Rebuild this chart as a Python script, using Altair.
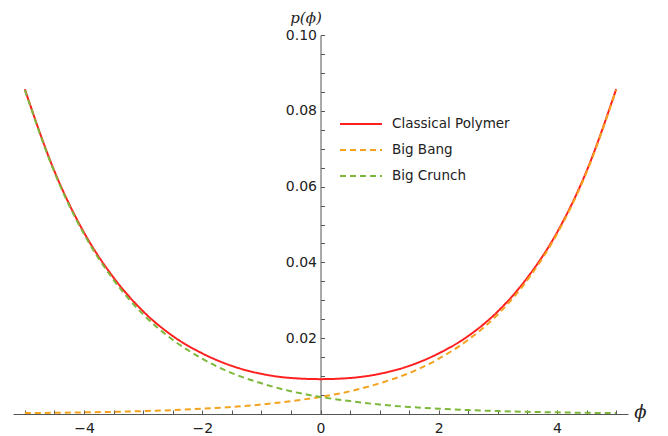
import altair as alt
import pandas as pd

# values
phi = [-5.0, -4.5, -4.0, -3.5, -3.0, -2.5, -2.0, -1.5, -1.0, -0.5, 0.0,
       0.5, 1.0, 1.5, 2.0, 2.5, 3.0, 3.5, 4.0, 4.5, 5.0]
classical_polymer = [0.0857, 0.0641, 0.0479, 0.0360, 0.0271, 0.0206, 0.0160, 0.0127, 0.0106, 0.0095, 0.0092,
                     0.0095, 0.0106, 0.0127, 0.0160, 0.0206, 0.0271, 0.0360, 0.0479, 0.0641, 0.0857]
big_bang = [0.00024, 0.00032, 0.00043, 0.00057, 0.00077, 0.00103, 0.00139, 0.00185, 0.0025, 0.0034, 0.0045,
            0.0060, 0.0081, 0.0108, 0.0146, 0.0196, 0.0263, 0.0354, 0.0475, 0.0638, 0.0855]
big_crunch = [0.0855, 0.0638, 0.0475, 0.0354, 0.0263, 0.0196, 0.0146, 0.0108, 0.0081, 0.0060, 0.0045,
              0.0034, 0.0025, 0.00185, 0.00139, 0.00103, 0.00077, 0.00057, 0.00043, 0.00032, 0.00024]

series_names = ["Classical Polymer", "Big Bang", "Big Crunch"]
series_colors = ["#ff1f1f", "#f4a31f", "#7db83c"]
series_dashes = [[1, 0], [6, 4], [6, 4]]

x_major = [-4, -2, 0, 2, 4]
x_minor = [-5.0, -4.5, -4.0, -3.5, -3.0, -2.5, -2.0, -1.5, -1.0, -0.5, 0.0,
           0.5, 1.0, 1.5, 2.0, 2.5, 3.0, 3.5, 4.0, 4.5, 5.0]
y_major = [0.02, 0.04, 0.06, 0.08, 0.10]
y_minor = [0.005, 0.01, 0.015, 0.02, 0.025, 0.03, 0.035, 0.04, 0.045, 0.05,
           0.055, 0.06, 0.065, 0.07, 0.075, 0.08, 0.085, 0.09, 0.095, 0.1]

rows = []
for name, vals in zip(series_names, [classical_polymer, big_bang, big_crunch]):
    for p, v in zip(phi, vals):
        rows.append({"phi": p, "p": v, "series": name})
df = pd.DataFrame(rows)

W, H = 615, 379
FONT = "DejaVu Sans"

x_scale = alt.Scale(domain=[-5.2, 5.2], nice=False, zero=False)
y_scale = alt.Scale(domain=[0, 0.1], nice=False, zero=False)

legend = alt.Legend(
    title=None, orient="none", legendX=337, legendY=78,
    symbolType="M-2.1,0H2.1", symbolSize=400, symbolStrokeWidth=2,
    symbolFillColor="transparent",
    labelFont=FONT, labelFontSize=13.5, labelColor="#222222",
    labelOffset=20, rowPadding=8,
)

lines = alt.Chart(df).mark_line(strokeWidth=2, interpolate="monotone").encode(
    x=alt.X("phi:Q", scale=x_scale, axis=alt.Axis(
        orient="bottom", values=x_major, ticks=False, grid=False,
        domainColor="#555555", domainWidth=1,
        labelFont=FONT, labelFontSize=14, labelColor="#222222", labelPadding=7,
        format="d",
        title="ϕ", titleX=627, titleY=-2, titleAngle=0, titleAlign="center",
        titleBaseline="middle", titleFont="DejaVu Serif", titleFontSize=18,
        titleFontStyle="italic", titleFontWeight="normal", titleColor="#222222")),
    y=alt.Y("p:Q", scale=y_scale, axis=alt.Axis(
        orient="left", offset=-307.5, values=y_major, ticks=False, grid=False,
        domainColor="#555555", domainWidth=1,
        labelFont=FONT, labelFontSize=14, labelColor="#222222", labelPadding=4,
        format=".2f",
        title="p(ϕ)", titleX=-15, titleY=-18, titleAngle=0, titleAlign="center",
        titleBaseline="middle", titleFont="DejaVu Serif", titleFontSize=15,
        titleFontStyle="italic", titleFontWeight="normal", titleColor="#222222")),
    color=alt.Color("series:N", scale=alt.Scale(domain=series_names, range=series_colors),
                    sort=series_names, legend=legend),
    strokeDash=alt.StrokeDash("series:N", scale=alt.Scale(domain=series_names, range=series_dashes),
                              sort=series_names, legend=legend),
    order=alt.Order("phi:Q"),
)

ticks = alt.Chart(df).mark_point(opacity=0).encode(
    x=alt.X("phi:Q", scale=x_scale, axis=alt.Axis(
        orient="top", offset=-H, values=x_minor, labels=False, domain=False, grid=False,
        ticks=True, tickSize=4, tickColor="#555555", title=None)),
    y=alt.Y("p:Q", scale=y_scale, axis=alt.Axis(
        orient="right", offset=-(W - 307.5), values=y_minor, labels=False, domain=False, grid=False,
        ticks=True, tickSize=4, tickColor="#555555", title=None)),
)

chart = alt.layer(lines, ticks).resolve_axis(
    x="independent", y="independent"
).resolve_scale(
    x="shared", y="shared"
).properties(
    width=W, height=H,
    autosize=alt.AutoSizeParams(type="none"),
    padding={"left": 5, "top": 27, "right": 30, "bottom": 20},
    background="white",
).configure_view(stroke=None)

chart.save("out.html", embed_options={"renderer": "svg", "actions": False})
